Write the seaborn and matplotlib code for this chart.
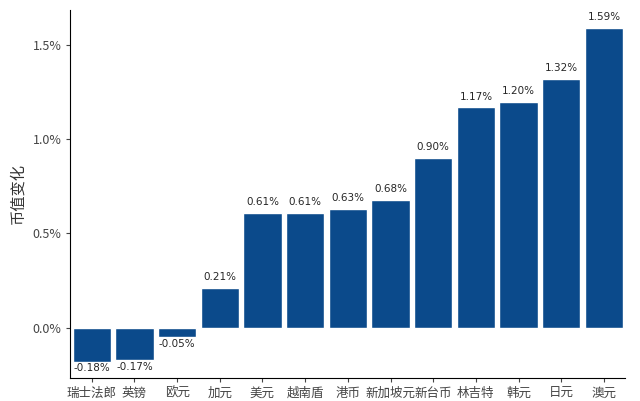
import matplotlib
matplotlib.use("Agg")
import matplotlib.pyplot as plt
import seaborn as sns
import pandas as pd
from matplotlib.ticker import FuncFormatter

currencies = ["瑞士法郎", "英镑", "欧元", "加元", "美元", "越南盾", "港币", "新加坡元", "新台币", "林吉特", "韩元", "日元", "澳元"]
changes = [-0.18, -0.17, -0.05, 0.21, 0.61, 0.61, 0.63, 0.68, 0.90, 1.17, 1.20, 1.32, 1.59]

sns.set_style("white")
plt.rcParams['font.family'] = ['Noto Sans CJK SC', 'DejaVu Sans']

df = pd.DataFrame({"currency": currencies, "change": changes})
fig, ax = plt.subplots(figsize=(6.4, 4.01), dpi=100)
sns.barplot(data=df, x="currency", y="change", color="#0B4A8B", saturation=1, width=0.9, ax=ax)
for i, v in enumerate(changes):
    if v >= 0:
        ax.text(i, v + 0.03, f"{v:.2f}%", ha="center", va="bottom", fontsize=7.5, family=['DejaVu Sans'])
    else:
        ax.text(i, v - 0.01, f"{v:.2f}%", ha="center", va="top", fontsize=7.5, family=['DejaVu Sans'])
ax.set_ylim(-0.266, 1.686)
ax.set_xlim(-0.5, 12.5)
ax.set_yticks([0, 0.5, 1.0, 1.5])
ax.yaxis.set_major_formatter(FuncFormatter(lambda v, p: f"{v:.1f}%"))
ax.set_xlabel("")
ax.set_ylabel("币值变化", fontsize=11, color="#333333")
ax.tick_params(axis="both", labelsize=9, colors="#444444", length=3, left=True, bottom=True)
for s in ["top", "right"]:
    ax.spines[s].set_visible(False)
for s in ["left", "bottom"]:
    ax.spines[s].set_color("black")
    ax.spines[s].set_linewidth(0.8)
fig.subplots_adjust(left=0.11, right=0.977, top=0.975, bottom=0.058)
fig.savefig("out.png", dpi=100)
